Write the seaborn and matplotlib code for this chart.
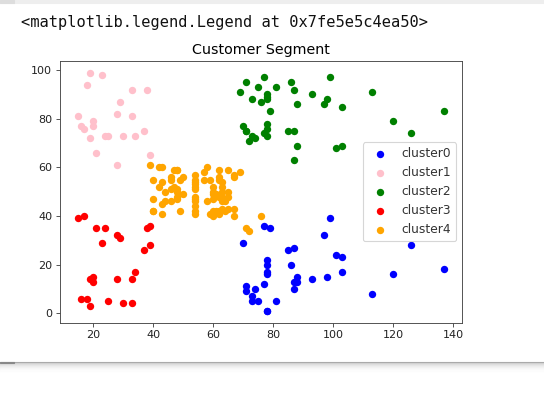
import matplotlib
matplotlib.use("Agg")
import matplotlib.pyplot as plt
from matplotlib.patches import Rectangle
import seaborn as sns

# annual income (k$) / spending score per cluster
cluster0_income = [70, 71, 71, 73, 73, 74, 75, 77, 77, 78, 78, 78, 78, 78, 78, 79, 81, 85,
                   86, 87, 87, 87, 88, 88, 93, 97, 98, 99, 101, 103, 103, 113, 120, 126, 137]
cluster0_score = [29, 11, 9, 5, 7, 10, 5, 12, 36, 22, 17, 20, 16, 1, 1, 35, 5, 26,
                  20, 27, 13, 10, 13, 15, 14, 32, 15, 39, 24, 17, 23, 8, 16, 28, 18]

cluster1_income = [15, 16, 17, 18, 19, 19, 20, 20, 21, 23, 24, 25, 28, 28, 29, 30, 33, 33,
                   34, 37, 38, 39]
cluster1_score = [81, 77, 76, 94, 72, 99, 77, 79, 66, 98, 73, 73, 82, 61, 87, 73, 92, 81,
                  73, 75, 92, 65]

cluster2_income = [69, 70, 71, 71, 71, 72, 73, 73, 74, 75, 76, 77, 77, 78, 78, 78, 78, 78,
                   78, 79, 81, 85, 86, 87, 87, 87, 88, 88, 93, 97, 98, 99, 101, 103, 103,
                   113, 120, 126, 137]
cluster2_score = [91, 77, 95, 75, 75, 71, 88, 73, 72, 93, 87, 97, 74, 90, 88, 76, 89, 78,
                  73, 83, 93, 75, 95, 63, 75, 92, 86, 69, 90, 86, 88, 97, 68, 85, 69,
                  91, 79, 74, 83]

cluster3_income = [15, 16, 17, 18, 19, 19, 20, 20, 21, 23, 24, 25, 28, 28, 29, 30, 33, 33,
                   34, 37, 38, 39, 39]
cluster3_score = [39, 6, 40, 6, 3, 14, 15, 13, 35, 29, 35, 5, 14, 32, 31, 4, 4, 14,
                  17, 26, 35, 36, 28]

cluster4_income = [39, 40, 40, 40, 40, 42, 42, 43, 43, 43, 43, 44, 44, 46, 46, 46, 46, 47,
                   47, 48, 48, 48, 48, 48, 48, 49, 49, 50, 50, 54, 54, 54, 54, 54, 54, 54,
                   54, 54, 54, 54, 54, 57, 57, 58, 58, 59, 59, 60, 60, 60, 60, 60, 60, 61,
                   61, 62, 62, 62, 62, 62, 62, 63, 63, 63, 63, 63, 63, 64, 64, 65, 65, 65,
                   65, 67, 67, 67, 67, 69, 71, 72, 76]
cluster4_score = [61, 55, 47, 42, 42, 52, 60, 54, 60, 45, 41, 50, 46, 51, 46, 56, 55, 52,
                  59, 51, 59, 50, 48, 59, 47, 55, 42, 49, 56, 47, 54, 53, 48, 52, 42, 51,
                  55, 41, 44, 57, 46, 58, 55, 60, 46, 55, 41, 49, 40, 42, 52, 47, 50, 42,
                  49, 41, 48, 59, 55, 56, 42, 50, 46, 43, 48, 52, 54, 42, 46, 48, 50, 43,
                  59, 43, 57, 56, 40, 58, 35, 34, 40]

clusters = [
    ("cluster0", cluster0_income, cluster0_score, "blue"),
    ("cluster1", cluster1_income, cluster1_score, "pink"),
    ("cluster2", cluster2_income, cluster2_score, "green"),
    ("cluster3", cluster3_income, cluster3_score, "red"),
    ("cluster4", cluster4_income, cluster4_score, "orange"),
]

W, H, DPI = 544, 412, 80
fig = plt.figure(figsize=(W / DPI, H / DPI), dpi=DPI)

# notebook cell decorations around the output
fig.patches.append(Rectangle((0, 1 - 3 / H), 1, 3 / H, transform=fig.transFigure,
                             color="#eeeeee", zorder=0))
fig.patches.append(Rectangle((0, 1 - 3 / H), 14 / W, 3 / H, transform=fig.transFigure,
                             color="#dddddd", zorder=0))
shade = [0.66, 0.82, 0.87, 0.9, 0.93, 0.95, 0.97, 0.98, 0.99]
for i, g in enumerate(shade):
    fig.patches.append(Rectangle((0, (H - 363 - i) / H), 1, 1 / H, transform=fig.transFigure,
                                 color=(g, g, g), zorder=0))
fig.patches.append(Rectangle((0, (H - 363) / H), 14 / W, 1 / H, transform=fig.transFigure,
                             color="#888888", zorder=0))

fig.text(21 / W, (H - 26.5) / H, "<matplotlib.legend.Legend at 0x7fe5e5c4ea50>",
         family="DejaVu Sans Mono", fontsize=13.9, va="baseline", color="#111111")

left, right, top, bottom = 60, 462.3, 60.7, 322.7
ax = fig.add_axes([left / W, (H - bottom) / H, (right - left) / W, (bottom - top) / H])

for name, xs, ys, col in clusters:
    sns.scatterplot(x=xs, y=ys, color=col, label=name, s=44, linewidth=0, ax=ax)

ax.set_title("Customer Segment", fontsize=12.8)
ax.set_xticks([20, 40, 60, 80, 100, 120, 140])
ax.set_yticks([0, 20, 40, 60, 80, 100])
for sp in ax.spines.values():
    sp.set_color("#444444")
ax.tick_params(color="#444444", labelcolor="#222222")
leg = ax.legend(loc="center right", fontsize=11.0)
for t in leg.get_texts():
    t.set_color("#333333")

fig.savefig("out.png", dpi=DPI)
